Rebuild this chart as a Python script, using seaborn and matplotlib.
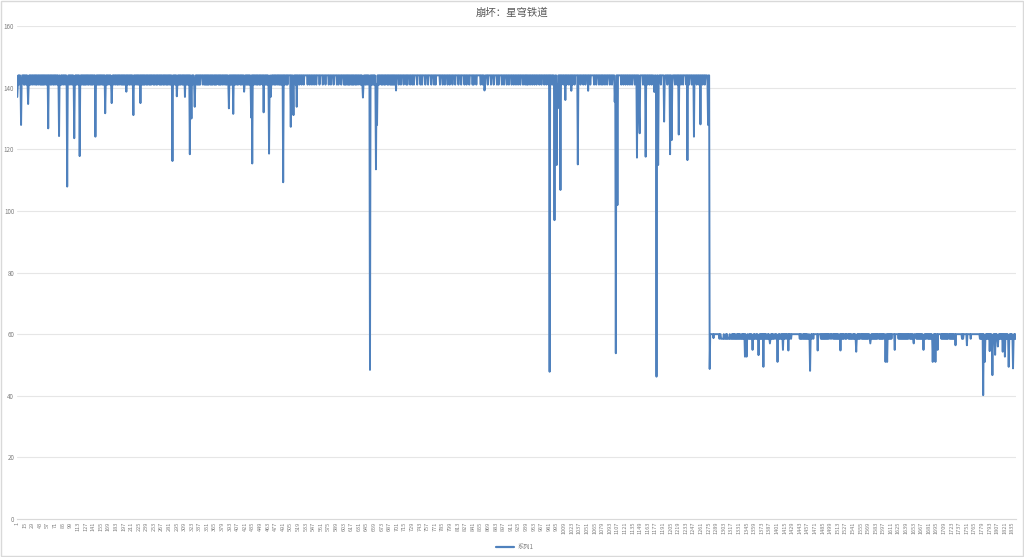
import numpy as np
import pandas as pd
import seaborn as sns
import matplotlib.pyplot as plt
from matplotlib.patches import Rectangle

# frame-rate trace
# high phase (frames 1-1277): '4' = 144 fps, '1' = 141 fps
high_band = """
4141441414 4414144141 4141414414 4144141441 4414141414 1441414144 4141441414 4144141441 1414414414 4141441441
4414141414 1441441414 4141414144 1414414141 4414414141 4141441414 1441414144 4141414414 4144141441 4414141414
4441441414 4141441441 4414144141 4141414414 1441414144 4141441414 4414141441 4144141414 4141414441 4414414141
4144141441 4414141414 1441441414 4141414144 4414414141 4141441414 1441414144 4141414414 4144141441 4414141414
1414414144 4141441441 4414141414 1441414414 4141441414 4414144141 4141414414 4144141441 4414141414 1441441414
4444144414 4441444144 1444144414 4444414441 4441444144 4144444144 4441444414 4444144414 4441444441 4414444144
4414141441 4141441414 1441414414 4414141414 4141441441 4414141414 1414414144 4141441414 4414144141 4141414414
4441444144 4414444141 4444144414 4144444144 4441441444 4414444144 4441444414 4144444441 4444144414 4441444144
4414444144 4441444414 4444144414 4441444441 4144441444 4444144414 4414444144 4441444414 4444144144 4441444144
4414441444 4144414441 4441444144 4414441441 4144414441 4441444144 4414441444 4144414441 4441441444 4144414441
4441444144 4414441441 4441444144 4441444414 4441444144 4414441444 4441444144 4414441441 4441444144 4414441444
4414441444 4441444144 4144414441 4441444414 4414441444 4441441444 4144414441 4441444144 4414441444 4441444414
4441444144 4414441441 4441444144 4441444414 4441444144 4414441444 4441444144 4414441
"""
high_levels = {"4": 144, "1": 141}

# low phase (frames 1278-1841): '0' = 60 fps, '8' = 58.5 fps
low_band = """
0000000000 0000000800 8888808880 8088880888 0808080880 8080808808 0800808080 8808080808 0808808080 8080808080
8080880808 0808080880 0808080808 8080808080 0800808008 0000000000 0000080808 8080808080 8808080800 8000000000
0000808080 8080808080 0800800808 0808080880 8080808008 0800080808 0880808080 8080808008 0808080808 0800808080
8080808080 0808080808 0000808080 8080800000 0000000808 0808080808 0808080080 8080800000 8080808080 8080808080
0808080808 0808080000 0000008080 8080808080 0808080808 0000000000 0000808000 0000000000 8000000000 0000000808
0808080808 0808080808 0808080808 0808080808 0808080808 0808080808 0808
"""
low_levels = {"0": 60, "8": 58.5}

# single-frame drops (frame number, fps)
dip_frames = [1, 8, 21, 58, 78, 93, 106, 116, 145, 163, 175, 202, 215, 228, 287, 295, 310,
              319, 322, 328, 391, 399, 419, 432, 434, 455, 465, 468, 491, 505, 510, 516,
              638, 651, 662, 664, 699, 862, 982, 991, 995, 997, 1002, 1011, 1022, 1034,
              1053, 1102, 1104, 1107, 1143, 1147, 1148, 1159, 1175, 1179, 1182, 1193,
              1204, 1207, 1220, 1236, 1248, 1260, 1274, 1277,
              1284, 1342, 1345, 1356, 1367, 1376, 1388, 1402, 1412, 1422, 1462, 1476,
              1518, 1547, 1573, 1601, 1604, 1618, 1653, 1671, 1688, 1693, 1697, 1730,
              1751, 1781, 1784, 1793, 1798, 1803, 1808, 1817, 1821, 1828, 1836]
dip_fps = [137, 127.9, 134.7, 126.8, 124.3, 107.9, 123.6, 117.8, 124.1, 131.7, 135, 138.7,
           131.1, 135, 116.2, 137.2, 137, 118.4, 130, 133.8, 133.3, 131.5, 138.7, 130.3,
           115.4, 132, 118.6, 137, 109.3, 127.3, 131.1, 133.8,
           136.8, 48.4, 113.5, 127.9, 139.1, 139.1, 47.8, 97, 114.9, 133.3, 106.8, 136,
           139, 115.1, 139, 135.4, 53.8, 101.9, 117.3, 130.6, 125.2, 117.6, 138.6, 46.2,
           114.9, 129, 118.4, 123, 124.8, 116.5, 124.1, 128.1, 127.9, 48.7,
           58.7, 52.7, 52.7, 54.9, 53.2, 49.4, 57, 51, 54.9, 54.7, 48.1, 54.7,
           54.7, 54.3, 57, 51, 51, 54.9, 57, 54.9, 51, 51, 54.9, 56.4,
           56.4, 40.2, 51, 54.5, 46.7, 53.3, 56, 54.3, 52.7, 49.4, 48.9]

title = "崩坏：星穹铁道"
series_name = "系列1"
y_ticks = [0, 20, 40, 60, 80, 100, 120, 140, 160]

# build the series
fps = [high_levels[c] for c in high_band if c in high_levels]
fps += [low_levels[c] for c in low_band if c in low_levels]
fps = np.array(fps, dtype=float)
for f, v in zip(dip_frames, dip_fps):
    if f <= len(fps):
        fps[f - 1] = v
n = len(fps)
df = pd.DataFrame({"frame": np.arange(1, n + 1), "fps": fps, "series": series_name})

sns.set_theme(style="white")
plt.rcParams["font.family"] = ["Noto Sans CJK SC", "DejaVu Sans"]

fig = plt.figure(figsize=(10.24, 5.57), dpi=100)
ax = fig.add_axes([0.0166, 0.0682, 0.9756, 0.885])

line_color = "#4F81BD"
sns.lineplot(data=df, x="frame", y="fps", hue="series", palette=[line_color],
             linewidth=1.4, ax=ax, legend=False)

ax.set_xlim(0.5, n + 0.5)
ax.set_ylim(0, 160)
ax.set_yticks(y_ticks)
ax.set_yticklabels([str(t) for t in y_ticks], fontsize=4.5, color="#7f7f7f")
ticks = list(range(1, n + 1, 14))
ax.set_xticks(ticks)
ax.set_xticklabels([str(t) for t in ticks], rotation=90, fontsize=4.0, color="#7f7f7f")
ax.tick_params(axis="both", length=0, pad=2)
ax.yaxis.grid(True, color="#e6e6e6", linewidth=0.8)
ax.xaxis.grid(False)
for side in ["top", "right", "left"]:
    ax.spines[side].set_visible(False)
ax.spines["bottom"].set_color("#d9d9d9")
ax.spines["bottom"].set_linewidth(0.8)
ax.set_xlabel("")
ax.set_ylabel("")

fig.text(0.5, 0.978, title, ha="center", va="center", fontsize=7.5, color="#595959")

# legend at bottom centre
fig.lines.append(plt.Line2D([0.484, 0.502], [0.018, 0.018], transform=fig.transFigure,
                            color=line_color, linewidth=1.6))
fig.text(0.505, 0.018, series_name, ha="left", va="center", fontsize=4.5, color="#7f7f7f")

fig.patches.append(Rectangle((0.0005, 0.001), 0.999, 0.998, transform=fig.transFigure,
                             fill=False, edgecolor="#d9d9d9", linewidth=1.0))

fig.savefig("out.png", dpi=100)
